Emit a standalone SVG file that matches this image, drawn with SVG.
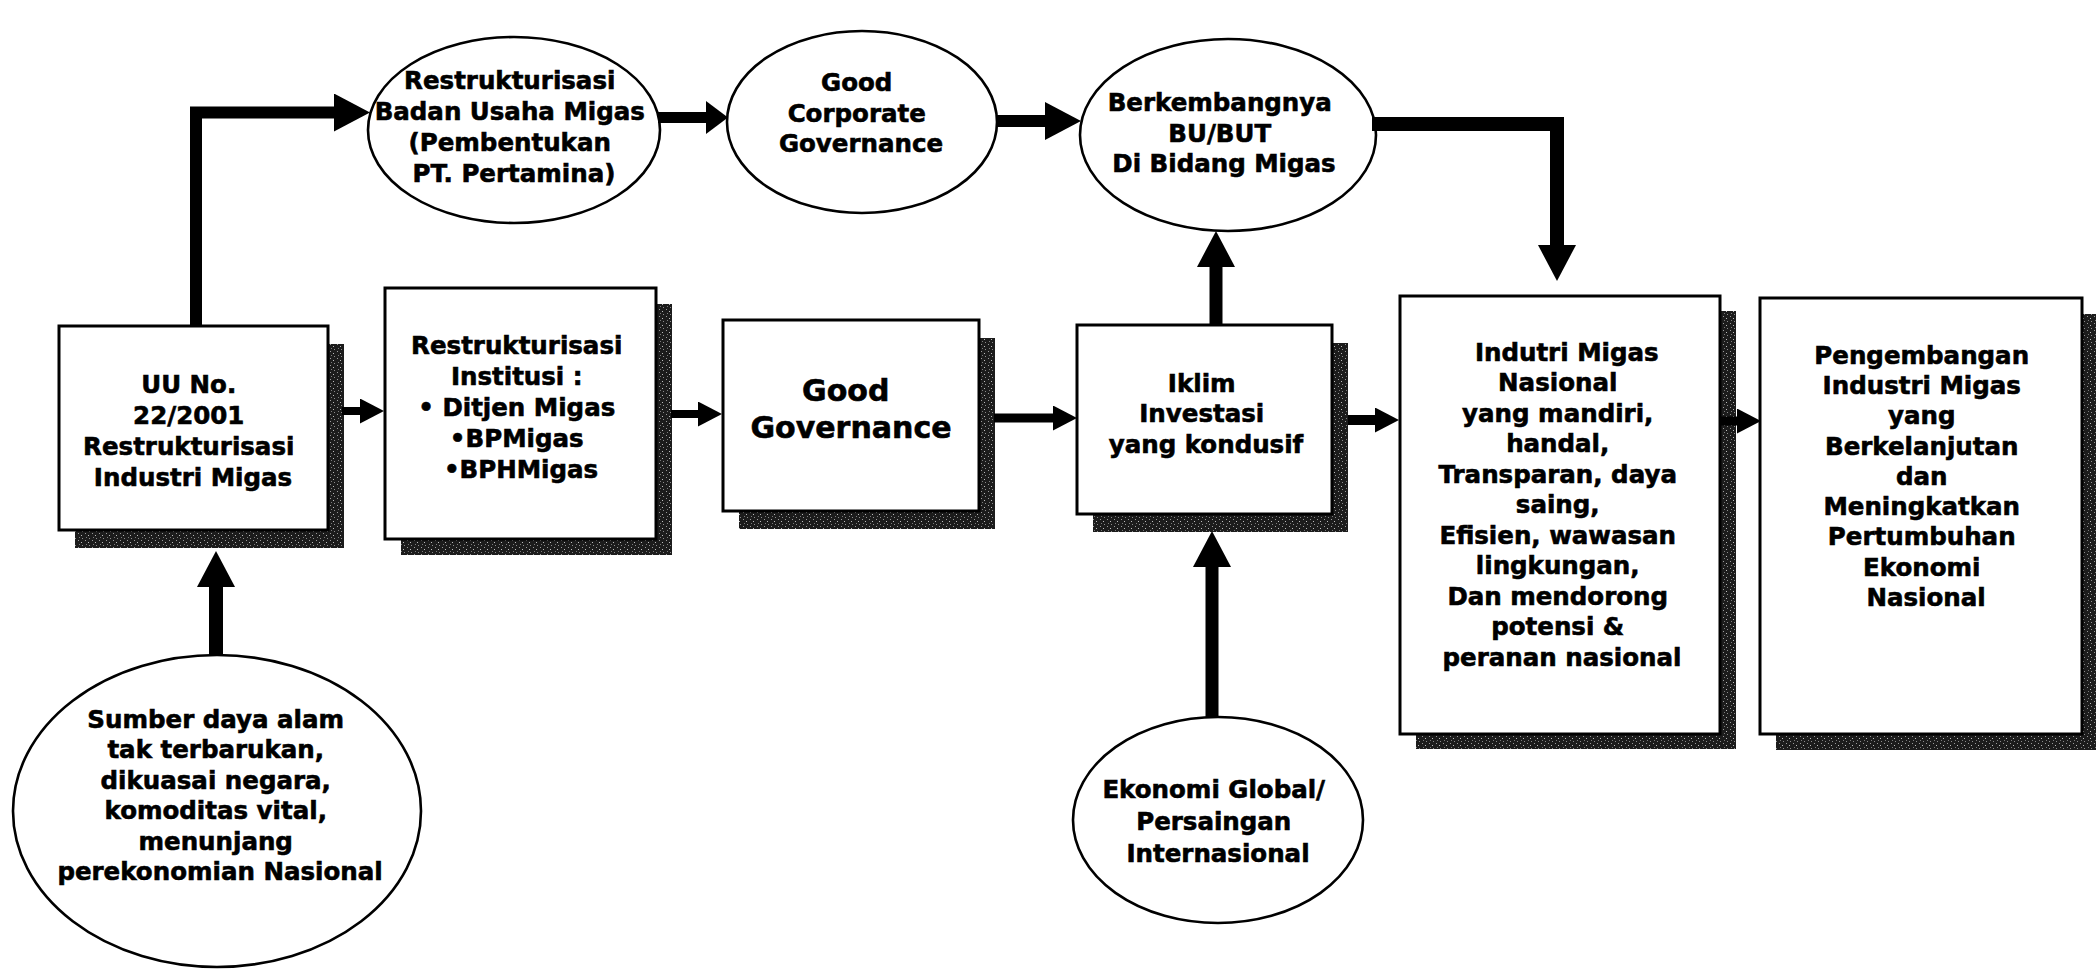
<svg xmlns="http://www.w3.org/2000/svg" width="2096" height="969" viewBox="0 0 2096 969">
  <style>
    .box { fill: #ffffff; stroke: #000000; stroke-width: 3; }
    .oval { fill: #ffffff; stroke: #000000; stroke-width: 2.6; }
    .shadow { fill: url(#grain); }
    .t { font-family: "DejaVu Sans", Verdana, sans-serif; font-weight: bold; font-size: 24.5px; text-anchor: middle; fill: #000000; stroke: #000000; stroke-width: 0.6; }
    .big { font-size: 30px; }
    .link { fill: none; stroke: #000000; stroke-linejoin: miter; stroke-linecap: butt; }
  </style>
  <defs>
    <!-- speckled dark fill used for the drop shadows -->
    <pattern id="grain" width="7" height="7" patternUnits="userSpaceOnUse">
      <rect width="7" height="7" fill="#1c1c1c"/>
      <rect x="1" y="1" width="1" height="1" fill="#9a9a9a"/>
      <rect x="4" y="3" width="1" height="1" fill="#bdbdbd"/>
      <rect x="2" y="5" width="1" height="1" fill="#7a7a7a"/>
      <rect x="5" y="6" width="1" height="1" fill="#8c8c8c"/>
    </pattern>
    <marker id="head-lg" markerUnits="userSpaceOnUse" markerWidth="36" markerHeight="38" refX="0" refY="19" orient="auto">
      <path d="M0,0 L36,19 L0,38 z" fill="#000000"/>
    </marker>
    <marker id="head-md" markerUnits="userSpaceOnUse" markerWidth="22" markerHeight="33" refX="0" refY="16.5" orient="auto">
      <path d="M0,0 L22,16.5 L0,33 z" fill="#000000"/>
    </marker>
    <marker id="head-sm" markerUnits="userSpaceOnUse" markerWidth="24" markerHeight="25" refX="0" refY="12.5" orient="auto">
      <path d="M0,0 L24,12.5 L0,25 z" fill="#000000"/>
    </marker>
  </defs>

  <rect width="2096" height="969" fill="#ffffff"/>

  <!-- rectangular nodes with drop shadows -->
  <g id="uu-22-2001">
    <rect class="shadow" x="75" y="344" width="269" height="204"/>
    <rect class="box" x="59" y="326" width="269" height="204"/>
    <text class="t">
      <tspan x="193" y="393">UU No.</tspan>
      <tspan x="193" y="424">22/2001</tspan>
      <tspan x="193" y="455">Restrukturisasi</tspan>
      <tspan x="193" y="486">Industri Migas</tspan>
    </text>
  </g>

  <g id="restrukturisasi-institusi">
    <rect class="shadow" x="401" y="304" width="271" height="251"/>
    <rect class="box" x="385" y="288" width="271" height="251"/>
    <text class="t">
      <tspan x="521" y="354">Restrukturisasi</tspan>
      <tspan x="521" y="385">Institusi :</tspan>
      <tspan x="521" y="416">• Ditjen Migas</tspan>
      <tspan x="521" y="447">•BPMigas</tspan>
      <tspan x="521" y="478">•BPHMigas</tspan>
    </text>
  </g>

  <g id="good-governance">
    <rect class="shadow" x="739" y="338" width="256" height="191"/>
    <rect class="box" x="723" y="320" width="256" height="191"/>
    <text class="t big">
      <tspan x="851" y="401">Good</tspan>
      <tspan x="851" y="438">Governance</tspan>
    </text>
  </g>

  <g id="iklim-investasi">
    <rect class="shadow" x="1093" y="343" width="255" height="189"/>
    <rect class="box" x="1077" y="325" width="255" height="189"/>
    <text class="t">
      <tspan x="1206" y="392">Iklim</tspan>
      <tspan x="1206" y="422">Investasi</tspan>
      <tspan x="1206" y="453">yang kondusif</tspan>
    </text>
  </g>

  <g id="industri-migas-nasional">
    <rect class="shadow" x="1416" y="311" width="320" height="438"/>
    <rect class="box" x="1400" y="296" width="320" height="438"/>
    <text class="t">
      <tspan x="1571" y="361">Indutri Migas</tspan>
      <tspan x="1562" y="391">Nasional</tspan>
      <tspan x="1562" y="422">yang mandiri,</tspan>
      <tspan x="1562" y="452">handal,</tspan>
      <tspan x="1562" y="483">Transparan, daya</tspan>
      <tspan x="1562" y="513">saing,</tspan>
      <tspan x="1562" y="544">Efisien, wawasan</tspan>
      <tspan x="1562" y="574">lingkungan,</tspan>
      <tspan x="1562" y="605">Dan mendorong</tspan>
      <tspan x="1562" y="635">potensi &amp;</tspan>
      <tspan x="1562" y="666">peranan nasional</tspan>
    </text>
  </g>

  <g id="pengembangan-industri">
    <rect class="shadow" x="1776" y="314" width="322" height="436"/>
    <rect class="box" x="1760" y="298" width="322" height="436"/>
    <text class="t">
      <tspan x="1926" y="364">Pengembangan</tspan>
      <tspan x="1926" y="394">Industri Migas</tspan>
      <tspan x="1926" y="424">yang</tspan>
      <tspan x="1926" y="455">Berkelanjutan</tspan>
      <tspan x="1926" y="485">dan</tspan>
      <tspan x="1926" y="515">Meningkatkan</tspan>
      <tspan x="1926" y="545">Pertumbuhan</tspan>
      <tspan x="1926" y="576">Ekonomi</tspan>
      <tspan x="1926" y="606">Nasional</tspan>
    </text>
  </g>

  <!-- oval nodes -->
  <g id="restrukturisasi-badan-usaha">
    <ellipse class="oval" cx="514" cy="130" rx="146" ry="93"/>
    <text class="t">
      <tspan x="514" y="89">Restrukturisasi</tspan>
      <tspan x="514" y="120">Badan Usaha Migas</tspan>
      <tspan x="514" y="151">(Pembentukan</tspan>
      <tspan x="514" y="182">PT. Pertamina)</tspan>
    </text>
  </g>

  <g id="good-corporate-governance">
    <ellipse class="oval" cx="862" cy="122" rx="135" ry="91"/>
    <text class="t">
      <tspan x="861" y="91">Good</tspan>
      <tspan x="861" y="122">Corporate</tspan>
      <tspan x="861" y="152">Governance</tspan>
    </text>
  </g>

  <g id="berkembangnya-bu-but">
    <ellipse class="oval" cx="1228" cy="135" rx="148" ry="96"/>
    <text class="t">
      <tspan x="1224" y="111">Berkembangnya</tspan>
      <tspan x="1224" y="142">BU/BUT</tspan>
      <tspan x="1224" y="172">Di Bidang Migas</tspan>
    </text>
  </g>

  <g id="sumber-daya-alam">
    <ellipse class="oval" cx="217" cy="811" rx="204" ry="156"/>
    <text class="t">
      <tspan x="220" y="728">Sumber daya alam</tspan>
      <tspan x="220" y="758">tak terbarukan,</tspan>
      <tspan x="220" y="789">dikuasai negara,</tspan>
      <tspan x="220" y="819">komoditas vital,</tspan>
      <tspan x="220" y="850">menunjang</tspan>
      <tspan x="220" y="880">perekonomian Nasional</tspan>
    </text>
  </g>

  <g id="ekonomi-global">
    <ellipse class="oval" cx="1218" cy="820" rx="145" ry="103"/>
    <text class="t">
      <tspan x="1218" y="798">Ekonomi Global/</tspan>
      <tspan x="1218" y="830">Persaingan</tspan>
      <tspan x="1218" y="862">Internasional</tspan>
    </text>
  </g>

  <!-- connectors -->
  <g id="connectors">
    <path class="link" d="M196,326 V112.5 H334" stroke-width="12" marker-end="url(#head-lg)"/>
    <path class="link" d="M658,117.5 H706" stroke-width="11" marker-end="url(#head-md)"/>
    <path class="link" d="M997,121 H1045" stroke-width="12" marker-end="url(#head-lg)"/>
    <path class="link" d="M1372,124 H1557 V245" stroke-width="14" marker-end="url(#head-lg)"/>
    <path class="link" d="M1216,325 V267" stroke-width="13" marker-end="url(#head-lg)"/>
    <path class="link" d="M1212,717 V567" stroke-width="13" marker-end="url(#head-lg)"/>
    <path class="link" d="M216,655 V587" stroke-width="14" marker-end="url(#head-lg)"/>
    <path class="link" d="M342,411 H360" stroke-width="8" marker-end="url(#head-sm)"/>
    <path class="link" d="M671,414 H698" stroke-width="8" marker-end="url(#head-sm)"/>
    <path class="link" d="M994,418 H1053" stroke-width="9" marker-end="url(#head-sm)"/>
    <path class="link" d="M1348,420 H1375" stroke-width="10" marker-end="url(#head-sm)"/>
    <path class="link" d="M1720,421 H1737" stroke-width="9" marker-end="url(#head-sm)"/>
  </g>
</svg>
